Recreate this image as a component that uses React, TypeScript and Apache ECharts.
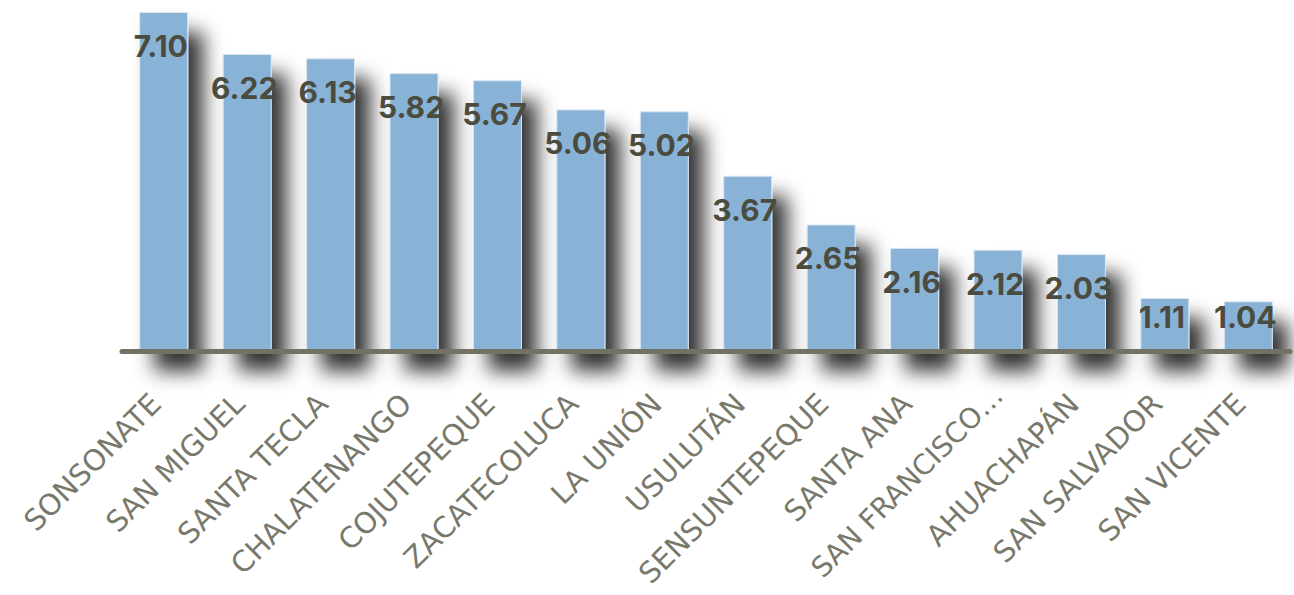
import React, { useEffect, useRef } from "react";
import * as echarts from "echarts";

const categories = [
  "SONSONATE",
  "SAN MIGUEL",
  "SANTA TECLA",
  "CHALATENANGO",
  "COJUTEPEQUE",
  "ZACATECOLUCA",
  "LA UNIÓN",
  "USULUTÁN",
  "SENSUNTEPEQUE",
  "SANTA ANA",
  "SAN FRANCISCO…",
  "AHUACHAPÁN",
  "SAN SALVADOR",
  "SAN VICENTE",
];

const values = [7.1, 6.22, 6.13, 5.82, 5.67, 5.06, 5.02, 3.67, 2.65, 2.16, 2.12, 2.03, 1.11, 1.04];

const Y_MAX = 7.1;
const PLOT_TOP = 12;
const PLOT_BOTTOM = 244;
const PAGE_H = 595;

export default function App() {
  const ref = useRef<HTMLDivElement>(null);
  useEffect(() => {
    if (!ref.current) return;
    const chart = echarts.init(ref.current, undefined, { renderer: "svg" });
    const pxPerUnit = (PAGE_H - PLOT_TOP - PLOT_BOTTOM) / Y_MAX;
    const seriesData = values.map((v) => {
      const h = v * pxPerUnit;
      const dy = Math.min(14, h - 54);
      return { value: v, label: { offset: [-3, dy] } };
    });
    const categoryData = categories.map((c) =>
      c.endsWith("…")
        ? { value: c, textStyle: { padding: [0, 0, 0, 0], fontSize: 28 } }
        : c
    );
    chart.setOption({
      animation: false,
      backgroundColor: "#ffffff",
      grid: {
        left: 122,
        right: 4,
        top: PLOT_TOP,
        bottom: PLOT_BOTTOM,
        containLabel: false,
        outerBoundsMode: "none",
      },
      xAxis: {
        type: "category",
        data: categoryData,
        z: 5,
        axisLine: { show: true, lineStyle: { color: "#727264", width: 5 } },
        axisTick: { show: false },
        axisLabel: {
          interval: 0,
          rotate: 45,
          margin: 40,
          padding: [0, 11, 0, 0],
          fontSize: 29,
          fontFamily: "DejaVu Sans",
          fontWeight: "normal",
          color: "#78786b",
        },
      },
      yAxis: {
        type: "value",
        min: 0,
        max: Y_MAX,
        show: false,
        splitLine: { show: false },
      },
      series: [
        {
          type: "bar",
          data: seriesData,
          barWidth: 49,
          itemStyle: {
            color: "#89b3d6",
            borderColor: "#d8e6f2",
            borderWidth: 1,
            shadowColor: "rgba(0,0,0,0.8)",
            shadowBlur: 20,
            shadowOffsetX: 15,
            shadowOffsetY: 20,
          },
          label: {
            show: true,
            position: "insideTop",
            distance: 5,
            fontSize: 30,
            fontWeight: "bold",
            fontFamily: "Inter",
            color: "#4b4b40",
            formatter: (p: any) => Number(p.value).toFixed(2),
          },
        },
      ],
    });
    return () => chart.dispose();
  }, []);
  return (
    <div
      ref={ref}
      style={{ position: "absolute", left: 0, top: 0, width: 1294, height: 595 }}
    />
  );
}
